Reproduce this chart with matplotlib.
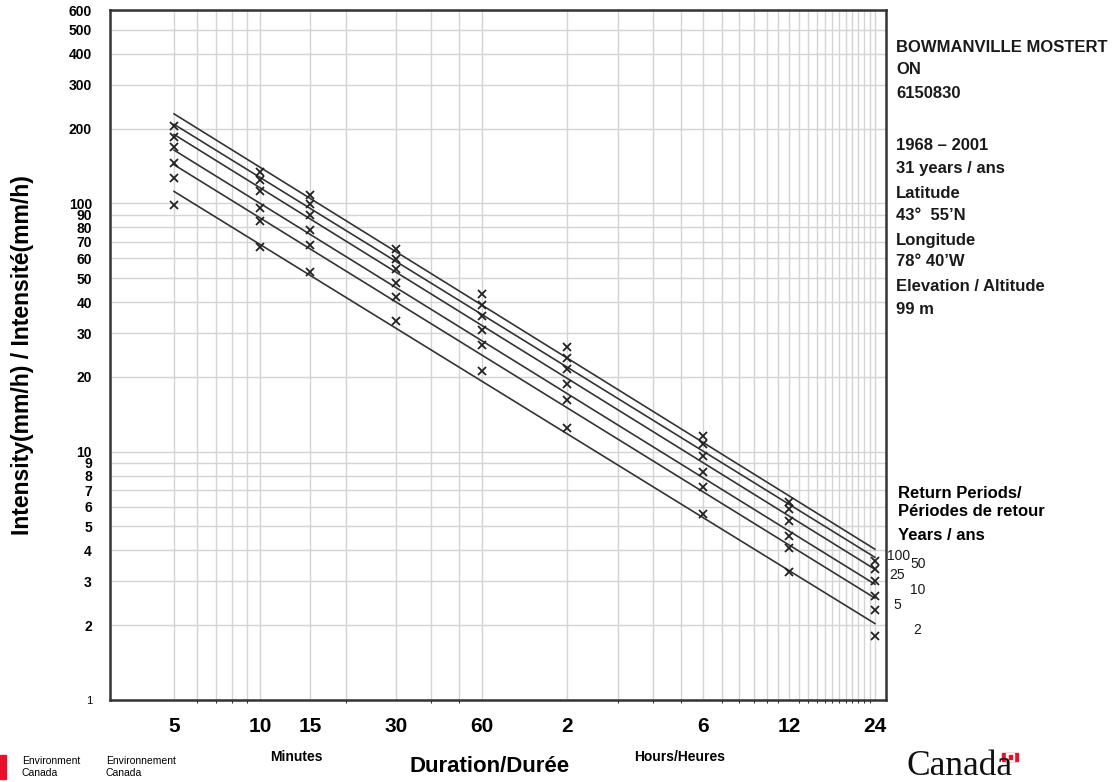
import numpy as np
import matplotlib.pyplot as plt
from matplotlib.ticker import FixedLocator, NullFormatter
from matplotlib.patches import Rectangle

plt.rcParams['font.family'] = ['Liberation Sans', 'DejaVu Sans']

# durations in minutes
durations = [5, 10, 15, 30, 60, 120, 360, 720, 1440]
dur_labels = ['5', '10', '15', '30', '60', '2', '6', '12', '24']

# intensity (mm/h) per return period
periods = ['2', '5', '10', '25', '50', '100']
i2 = [98, 66.6, 52.8, 33.5, 21.1, 12.5, 5.61, 3.29, 1.81]
i5 = [126, 84.6, 68.2, 41.9, 26.8, 16.2, 7.22, 4.09, 2.30]
i10 = [145, 96, 77.8, 47.7, 30.8, 18.7, 8.25, 4.58, 2.63]
i25 = [168, 112, 89.5, 54.5, 35.1, 21.6, 9.64, 5.27, 3.00]
i50 = [184, 124, 99.7, 59.5, 38.8, 23.9, 10.7, 5.87, 3.37]
i100 = [204, 134, 108, 65.7, 43.0, 26.3, 11.6, 6.25, 3.64]
series = [i2, i5, i10, i25, i50, i100]

y_ticks = [1, 2, 3, 4, 5, 6, 7, 8, 9, 10, 20, 30, 40, 50, 60, 70, 80, 90,
           100, 200, 300, 400, 500, 600]
x_grid = [5, 6, 7, 8, 9, 10, 15, 20, 30, 40, 50, 60] + list(range(120, 1441, 60))

W, H = 1120, 782
fig = plt.figure(figsize=(W / 100, H / 100), dpi=100)
ax = fig.add_axes([110 / W, 1 - 700 / H, 776 / W, 690 / H])
ax.set_xscale('log')
ax.set_yscale('log')
ax.set_xlim(2.98, 1575)
ax.set_ylim(1, 600)

t = np.array(durations, dtype=float)
for vals in series:
    ax.plot(t, vals, 'x', color='#222222', ms=6, mew=1.3, zorder=3)
    # log-log least squares fit line
    k, b = np.polyfit(np.log10(t), np.log10(vals), 1)
    tt = np.array([5, 1440], dtype=float)
    ax.plot(tt, 10 ** (k * np.log10(tt) + b), color='#333333', lw=1.2, zorder=2)

ax.xaxis.set_major_locator(FixedLocator(durations))
ax.set_xticklabels(dur_labels)
ax.xaxis.set_minor_locator(FixedLocator(x_grid))
ax.xaxis.set_minor_formatter(NullFormatter())
ax.yaxis.set_major_locator(FixedLocator(y_ticks))
ax.set_yticklabels([str(v) for v in y_ticks])
ax.yaxis.set_minor_locator(FixedLocator([]))

ax.grid(True, which='both', axis='x', color='#d4d4d4', lw=1)
ax.grid(True, which='major', axis='y', color='#d4d4d4', lw=1)
ax.set_axisbelow(True)
ax.tick_params(length=0)
ax.tick_params(axis='x', pad=12, labelsize=15)
ax.tick_params(axis='y', pad=13, labelsize=10)
for lab in ax.get_xticklabels():
    lab.set_fontweight('bold')
    lab.set_family(['Liberation Sans Narrow', 'Liberation Sans'])
for lab in ax.get_yticklabels():
    lab.set_fontweight('bold')
ylabs = ax.get_yticklabels()
ylabs[0].set_fontweight('normal')
ylabs[0].set_fontsize(8)
for s in ax.spines.values():
    s.set_color('#333333')
    s.set_linewidth(1.8)

ax.set_ylabel('Intensity(mm/h) / Intensité(mm/h)', fontsize=16.6,
              fontweight='bold', va='center')
ax.yaxis.set_label_coords(-0.113, 0.5)


def ftext(x, y, s, va='center', **kw):
    fig.text(x / W, 1 - y / H, s, va=va, **kw)


info = [('BOWMANVILLE MOSTERT', 47), ('ON', 70), ('6150830', 93),
        ('1968 – 2001', 146), ('31 years / ans', 168), ('Latitude', 194),
        ('43°  55’N', 215), ('Longitude', 240), ('78° 40’W', 261),
        ('Elevation / Altitude', 287), ('99 m', 309)]
for s, y in info:
    ftext(896, y, s, fontsize=12, fontweight='bold', color='#1a1a1a')

ftext(898, 494, 'Return Periods/', fontsize=12, fontweight='bold')
ftext(898, 511, 'Périodes de retour', fontsize=12, fontweight='bold')
ftext(898, 535, 'Years / ans', fontsize=12, fontweight='bold')

rp_pos = {'100': (887, 556), '50': (910, 564), '25': (889, 575),
          '10': (910, 590), '5': (893, 605), '2': (913, 630)}
for p in periods:
    x, y = rp_pos[p]
    ftext(x, y, p, fontsize=10, color='#1a1a1a')

narrow = ['Liberation Sans Narrow', 'Liberation Sans']
ftext(296, 757, 'Minutes', fontsize=10, fontweight='bold', family=narrow,
      ha='center')
ftext(680, 757, 'Hours/Heures', fontsize=10, fontweight='bold', family=narrow,
      ha='center')
ftext(490, 766, 'Duration/Durée', fontsize=16, fontweight='bold', family=narrow,
      ha='center')

# footer branding
fig.patches.append(Rectangle((0, 1 - 779 / H), 6 / W, 24 / H,
                             transform=fig.transFigure, color='#e8112d'))
ftext(22, 761, 'Environment', fontsize=7.5, family=narrow)
ftext(22, 773, 'Canada', fontsize=7.5, family=narrow)
ftext(106, 761, 'Environnement', fontsize=7.5, family=narrow)
ftext(106, 773, 'Canada', fontsize=7.5, family=narrow)
ftext(907, 775, 'Canada', va='baseline', fontsize=25.5,
      family=['Liberation Serif'], color='#111111')
fig.patches.append(Rectangle((1002 / W, 1 - 761 / H), 16 / W, 8 / H,
                             transform=fig.transFigure, color='#e8112d'))
fig.patches.append(Rectangle((1006 / W, 1 - 761 / H), 8 / W, 8 / H,
                             transform=fig.transFigure, color='white'))
fig.patches.append(Rectangle((1008.5 / W, 1 - 759 / H), 3 / W, 4 / H,
                             transform=fig.transFigure, color='#e8112d'))

fig.savefig('out.png', dpi=100)
